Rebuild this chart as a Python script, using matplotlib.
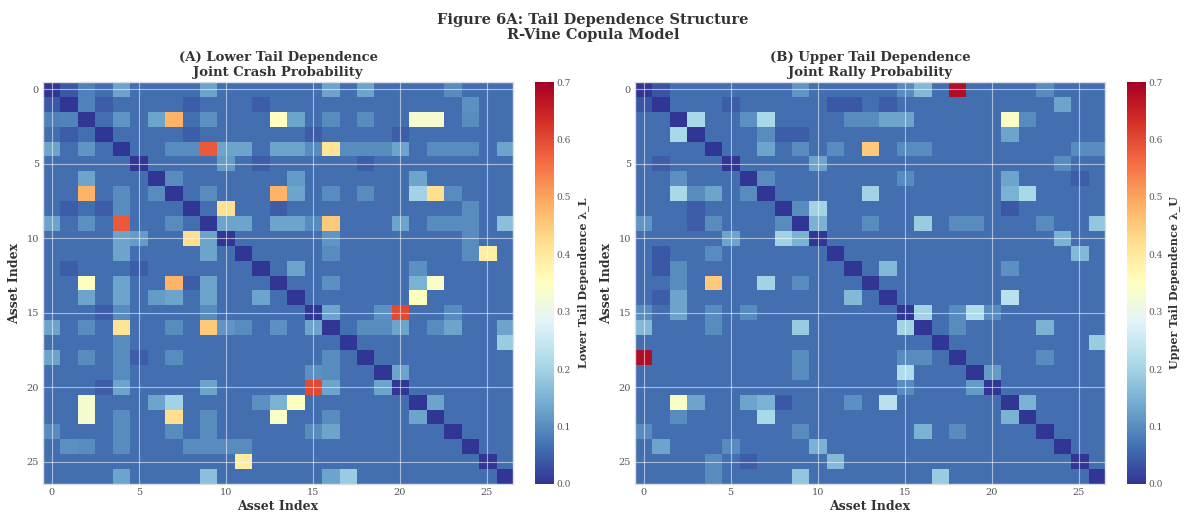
import numpy as np
import matplotlib
matplotlib.use("Agg")
import matplotlib.pyplot as plt

n_assets = 27
background = 0.065

# upper-triangle cells (row, col, value), everything else = background
lower_cells = [
    (0, 1, .04), (0, 2, .085), (0, 4, .13), (0, 9, .13), (0, 16, .13), (0, 18, .13), (0, 23, .10),
    (1, 2, .09), (1, 3, .045), (1, 8, .045), (1, 12, .045), (1, 24, .105),
    (2, 4, .11), (2, 6, .13), (2, 7, .48), (2, 9, .105), (2, 13, .35), (2, 14, .13), (2, 16, .10),
    (2, 18, .10), (2, 21, .33), (2, 22, .33), (2, 24, .10),
    (3, 8, .045), (3, 15, .045), (3, 20, .045),
    (4, 7, .10), (4, 8, .10), (4, 9, .58), (4, 10, .13), (4, 11, .13), (4, 13, .13), (4, 14, .13),
    (4, 15, .10), (4, 16, .41), (4, 17, .10), (4, 18, .10), (4, 19, .10), (4, 20, .13), (4, 22, .10),
    (4, 23, .10), (4, 24, .10), (4, 26, .13),
    (5, 10, .12), (5, 12, .045), (5, 18, .045),
    (6, 7, .10), (6, 14, .12), (6, 21, .13),
    (7, 9, .10), (7, 13, .48), (7, 14, .13), (7, 16, .10), (7, 18, .10), (7, 21, .20), (7, 22, .42),
    (7, 23, .10),
    (8, 10, .42), (8, 13, .045), (8, 24, .10),
    (9, 10, .13), (9, 11, .13), (9, 13, .13), (9, 14, .13), (9, 15, .10), (9, 16, .45), (9, 20, .13),
    (9, 22, .10), (9, 23, .10), (9, 24, .10), (9, 26, .17),
    (10, 16, .11), (10, 24, .10),
    (11, 16, .10), (11, 24, .10), (11, 25, .39),
    (12, 14, .13), (12, 21, .105),
    (13, 16, .105), (13, 21, .15), (13, 22, .34),
    (14, 21, .35),
    (15, 16, .13), (15, 19, .105), (15, 20, .60), (15, 23, .10),
    (16, 18, .10), (16, 19, .10), (16, 20, .13), (16, 22, .10), (16, 23, .13), (16, 26, .13),
    (17, 26, .19),
    (19, 20, .13),
    (21, 22, .13),
]

upper_cells = [
    (0, 1, .035), (0, 9, .11), (0, 15, .10), (0, 16, .16), (0, 18, .68), (0, 23, .10),
    (1, 5, .045), (1, 11, .04), (1, 12, .04), (1, 14, .045), (1, 24, .13),
    (2, 3, .21), (2, 6, .105), (2, 7, .21), (2, 12, .10), (2, 13, .10), (2, 14, .13), (2, 15, .13),
    (2, 21, .34), (2, 22, .10),
    (3, 7, .10), (3, 8, .045), (3, 9, .045), (3, 21, .13),
    (4, 7, .13), (4, 9, .10), (4, 11, .10), (4, 13, .45), (4, 15, .10), (4, 16, .10), (4, 25, .10),
    (4, 26, .10),
    (5, 10, .13), (5, 24, .10),
    (6, 7, .10), (6, 15, .10), (6, 21, .13), (6, 25, .045),
    (7, 13, .20), (7, 21, .15), (7, 22, .21),
    (8, 9, .10), (8, 10, .20), (8, 21, .04),
    (9, 10, .15), (9, 13, .10), (9, 16, .19), (9, 18, .10), (9, 19, .10), (9, 23, .10), (9, 26, .18),
    (10, 24, .15),
    (11, 25, .16),
    (12, 14, .16), (12, 21, .105),
    (14, 21, .23),
    (15, 16, .20), (15, 18, .10), (15, 19, .22), (15, 20, .10),
    (16, 18, .10), (16, 23, .15),
    (17, 26, .19),
    (18, 23, .10),
    (19, 20, .12),
    (21, 22, .15),
]

cbar_ticks = [0.0, 0.1, 0.2, 0.3, 0.4, 0.5, 0.6, 0.7]


def build_matrix(cells):
    m = np.full((n_assets, n_assets), background)
    for i, j, v in cells:
        m[i, j] = v
        m[j, i] = v
    np.fill_diagonal(m, 0.0)
    return m


plt.style.use("seaborn-v0_8-whitegrid")
plt.rcParams["font.family"] = ["DejaVu Serif"]

fig = plt.figure(figsize=(11.86, 5.14), dpi=100)

panels = [
    (lower_cells, "(A) Lower Tail Dependence\nJoint Crash Probability", "Lower Tail Dependence λ_L",
     [0.0363, 0.0584, 0.3963, 0.782], [0.451, 0.0584, 0.016, 0.782]),
    (upper_cells, "(B) Upper Tail Dependence\nJoint Rally Probability", "Upper Tail Dependence λ_U",
     [0.5354, 0.0584, 0.3963, 0.782], [0.950, 0.0584, 0.016, 0.782]),
]

for cells, title, clabel, ax_rect, cb_rect in panels:
    ax = fig.add_axes(ax_rect)
    cax = fig.add_axes(cb_rect)
    mat = build_matrix(cells)
    im = ax.imshow(mat, cmap="RdYlBu_r", vmin=0, vmax=0.7, aspect="auto", interpolation="nearest")
    ax.set_xticks([0, 5, 10, 15, 20, 25])
    ax.set_yticks([0, 5, 10, 15, 20, 25])
    ax.tick_params(labelsize=7, colors="#555555", length=0, pad=3)
    ax.grid(True, color="white", alpha=0.55, linewidth=0.8)
    for s in ax.spines.values():
        s.set_color("#dddddd")
    ax.set_title(title, fontsize=9.5, fontweight="bold", color="#333333", pad=4)
    ax.set_xlabel("Asset Index", fontsize=9, fontweight="bold", color="#333333", labelpad=2)
    ax.set_ylabel("Asset Index", fontsize=9, fontweight="bold", color="#333333", labelpad=4)

    cb = fig.colorbar(im, cax=cax, ticks=cbar_ticks)
    cb.outline.set_visible(False)
    cb.ax.tick_params(labelsize=6.5, colors="#555555", length=0, pad=2)
    cb.ax.set_yticklabels([f"{t:.1f}" for t in cbar_ticks])
    cb.set_label(clabel, fontsize=8, fontweight="bold", color="#333333", labelpad=4)

fig.suptitle("Figure 6A: Tail Dependence Structure\nR-Vine Copula Model",
             fontsize=10.5, fontweight="bold", color="#333333", y=0.975, linespacing=1.1)

fig.savefig("out.png", dpi=100)
